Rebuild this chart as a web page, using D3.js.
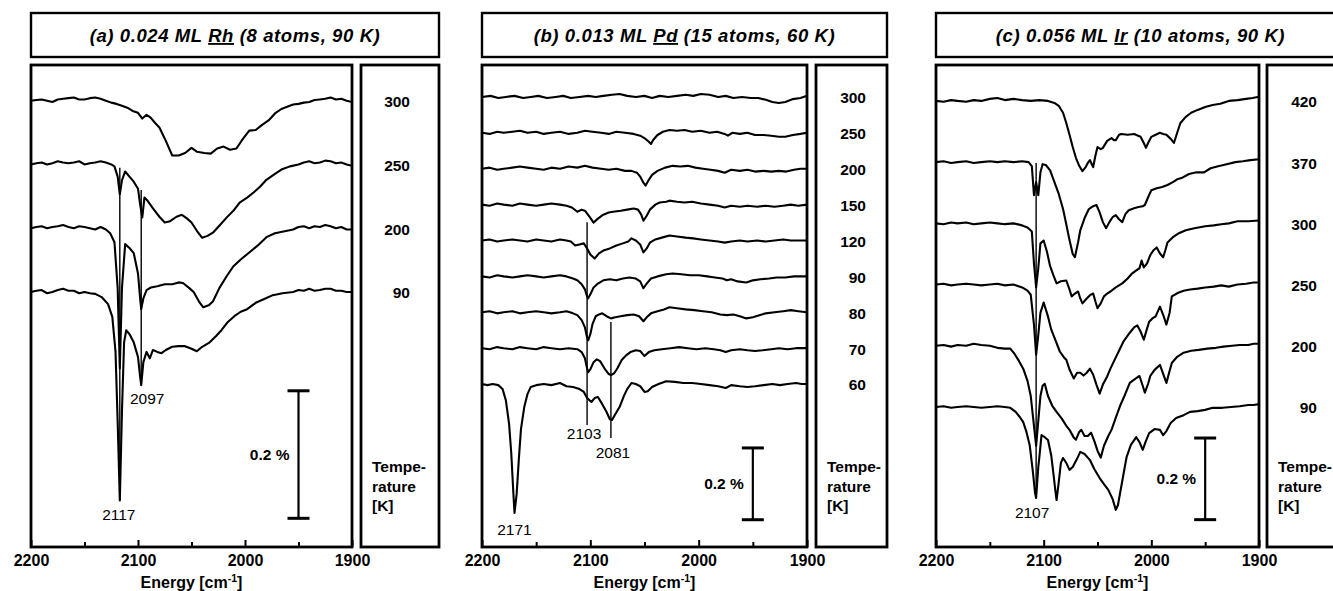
<!DOCTYPE html>
<html>
<head>
<meta charset="utf-8">
<script src="https://cdn.jsdelivr.net/npm/d3@7"></script>
<style>
  body { margin: 0; background: #fff; }
  svg { font-family: 'Liberation Sans', Arial, sans-serif; }
</style>
</head>
<body>
<div id="chart"></div>
<script>
// x axis
const energyTicks = [2200, 2100, 2000, 1900]
const minorTicks = [2150, 2050, 1950]

// (a) Rh, delta R/R in %, stacked top to bottom
const rhTemps = ['300', '250', '200', '90']
const rh300 = [[2200,0],[2195,.001],[2190,.002],[2185,0],[2180,-.002],[2175,.002],[2170,.003],[2165,.004],[2160,.005],[2155,.002],[2150,.002],[2145,.004],[2140,.005],[2135,.003],[2130,0],[2125,-.003],[2120,-.005],[2115,-.008],[2110,-.011],[2105,-.016],[2100,-.019],[2096,-.028],[2092,-.022],[2088,-.027],[2084,-.035],[2080,-.042],[2074,-.063],[2068,-.086],[2062,-.086],[2056,-.082],[2050,-.074],[2045,-.080],[2038,-.082],[2032,-.083],[2026,-.075],[2020,-.072],[2014,-.077],[2008,-.075],[2002,-.060],[1996,-.047],[1990,-.046],[1984,-.038],[1978,-.031],[1972,-.020],[1966,-.013],[1960,-.009],[1955,-.006],[1950,-.005],[1945,-.003],[1940,-.002],[1935,.001],[1930,.002],[1925,.003],[1920,.005],[1915,.002],[1910,.003],[1905,0],[1900,-.002]]
const rh250 = [[2200,0],[2195,.002],[2190,.003],[2185,0],[2180,.002],[2175,.005],[2170,.003],[2165,.002],[2160,.003],[2155,.005],[2150,0],[2145,.002],[2140,.003],[2135,.005],[2130,.003],[2125,0],[2122,-.003],[2119,-.019],[2117,-.047],[2115,-.025],[2112,-.011],[2108,-.019],[2104,-.027],[2100,-.038],[2098,-.063],[2096,-.083],[2094,-.052],[2091,-.057],[2086,-.069],[2080,-.082],[2075,-.091],[2070,-.089],[2064,-.082],[2059,-.079],[2054,-.085],[2050,-.091],[2045,-.104],[2040,-.115],[2035,-.112],[2030,-.107],[2024,-.096],[2017,-.083],[2010,-.071],[2005,-.060],[1998,-.052],[1992,-.044],[1986,-.035],[1980,-.024],[1973,-.016],[1966,-.008],[1958,-.003],[1950,0],[1945,.003],[1940,.005],[1935,.002],[1930,.003],[1925,.006],[1920,.005],[1915,.002],[1910,.003],[1905,0],[1900,-.002]]
const rh200 = [[2200,0],[2195,.002],[2190,.003],[2185,0],[2180,.002],[2175,.003],[2170,.005],[2165,.002],[2160,0],[2155,.003],[2150,.002],[2145,0],[2140,-.002],[2135,.002],[2130,-.002],[2126,-.008],[2122,-.022],[2119,-.094],[2117,-.220],[2115,-.094],[2112,-.025],[2108,-.031],[2104,-.039],[2100,-.071],[2098,-.110],[2097,-.127],[2095,-.110],[2092,-.097],[2088,-.093],[2082,-.091],[2075,-.088],[2068,-.088],[2062,-.085],[2058,-.086],[2052,-.094],[2048,-.100],[2043,-.115],[2039,-.124],[2034,-.121],[2030,-.115],[2024,-.094],[2017,-.075],[2011,-.060],[2004,-.049],[1996,-.038],[1988,-.027],[1980,-.014],[1972,-.008],[1964,-.005],[1955,-.002],[1950,.002],[1945,.003],[1940,0],[1935,.003],[1930,.002],[1925,.005],[1920,.003],[1915,0],[1910,.002],[1905,-.002],[1900,-.002]]
const rh90 = [[2200,0],[2195,.002],[2190,.003],[2185,-.002],[2180,0],[2175,.003],[2170,.005],[2165,.002],[2160,.002],[2155,-.002],[2150,0],[2145,-.002],[2140,-.003],[2134,-.008],[2128,-.019],[2124,-.039],[2121,-.094],[2119,-.204],[2117,-.327],[2115,-.188],[2113,-.079],[2111,-.060],[2108,-.066],[2104,-.079],[2100,-.102],[2098,-.133],[2097,-.146],[2095,-.110],[2092,-.094],[2089,-.104],[2086,-.091],[2082,-.094],[2078,-.096],[2074,-.091],[2068,-.086],[2062,-.085],[2056,-.085],[2050,-.089],[2045,-.093],[2040,-.086],[2033,-.079],[2027,-.069],[2022,-.060],[2016,-.047],[2010,-.038],[2004,-.031],[1998,-.027],[1990,-.017],[1982,-.011],[1974,-.005],[1965,-.002],[1955,0],[1950,.003],[1945,.002],[1940,.005],[1935,.002],[1930,.003],[1925,.005],[1920,.005],[1915,.002],[1910,.002],[1905,0],[1900,0]]
const rhPeaks = [
  { energy: 2117, top: 0.195, bottom: -0.327, label: '2117', dx: -1, dy: 14 },
  { energy: 2097, top: 0.160, bottom: -0.146, label: '2097', dx: 6, dy: 14 },
]

// (b) Pd
const pdTemps = ['300', '250', '200', '150', '120', '90', '80', '70', '60']
const pd300 = [[2200,0],[2192,.003],[2185,-.003],[2178,0],[2170,.003],[2162,-.003],[2155,0],[2148,.003],[2140,-.003],[2132,0],[2125,.003],[2118,-.003],[2110,0],[2102,.003],[2095,0],[2088,.003],[2080,.006],[2073,.008],[2066,.003],[2058,0],[2050,.003],[2043,-.003],[2036,.003],[2028,0],[2020,.003],[2012,.006],[2005,.003],[1998,.008],[1990,.006],[1982,0],[1975,.003],[1968,-.003],[1960,0],[1952,-.003],[1945,-.003],[1938,-.008],[1932,-.014],[1926,-.017],[1920,-.014],[1913,-.006],[1906,-.003],[1900,.003]]
const pd250 = [[2200,0],[2193,-.003],[2186,.003],[2180,0],[2172,.003],[2165,.006],[2158,0],[2150,.003],[2143,-.003],[2136,0],[2128,.003],[2120,-.003],[2112,0],[2105,.006],[2098,.003],[2090,0],[2083,-.003],[2076,.003],[2068,0],[2060,-.003],[2054,-.008],[2049,-.017],[2046,-.025],[2044,-.031],[2042,-.020],[2038,-.006],[2033,.003],[2027,.008],[2020,.006],[2013,.008],[2006,.003],[1998,.006],[1990,0],[1983,.003],[1976,-.003],[1973,-.008],[1969,0],[1962,-.003],[1955,0],[1948,-.006],[1940,-.006],[1933,-.008],[1926,-.011],[1920,-.011],[1913,-.006],[1906,-.003],[1900,0]]
const pd200 = [[2200,0],[2193,.003],[2186,-.003],[2180,0],[2172,.003],[2165,.006],[2158,.003],[2150,0],[2143,-.003],[2136,.003],[2128,0],[2120,.006],[2112,.003],[2105,.008],[2098,.003],[2090,0],[2083,-.003],[2076,0],[2068,-.006],[2062,-.006],[2057,-.011],[2054,-.022],[2051,-.039],[2049,-.047],[2046,-.031],[2043,-.017],[2038,-.006],[2031,.003],[2024,.008],[2017,.006],[2010,.008],[2003,.003],[1996,0],[1989,-.003],[1982,-.006],[1976,-.011],[1970,-.003],[1962,-.006],[1955,-.003],[1948,-.008],[1940,-.006],[1933,-.008],[1926,-.006],[1919,-.008],[1912,-.003],[1906,0],[1900,0]]
const pd150 = [[2200,0],[2193,-.003],[2186,.003],[2180,0],[2172,-.003],[2165,.003],[2158,0],[2150,-.003],[2143,0],[2136,.003],[2128,0],[2122,-.003],[2117,-.008],[2112,-.020],[2108,-.014],[2105,-.017],[2101,-.033],[2097,-.050],[2093,-.039],[2088,-.028],[2083,-.022],[2079,-.020],[2072,-.017],[2066,-.014],[2060,-.011],[2056,-.014],[2053,-.028],[2051,-.045],[2048,-.031],[2045,-.014],[2040,0],[2036,.006],[2030,.008],[2027,.011],[2020,.008],[2013,.006],[2006,.008],[1998,.003],[1990,0],[1982,-.003],[1976,-.008],[1970,-.003],[1962,-.006],[1955,-.003],[1946,-.006],[1938,-.003],[1930,-.006],[1922,-.003],[1915,0],[1908,-.003],[1900,0]]
const pd120 = [[2200,0],[2193,.003],[2186,-.003],[2180,0],[2172,.003],[2165,0],[2158,-.003],[2150,.003],[2143,0],[2136,-.003],[2128,.003],[2122,0],[2118,-.003],[2114,-.014],[2110,-.011],[2106,-.008],[2103,-.022],[2100,-.039],[2096,-.050],[2092,-.036],[2088,-.028],[2082,-.022],[2076,-.014],[2070,-.008],[2065,-.003],[2062,.006],[2058,0],[2054,-.011],[2051,-.033],[2048,-.022],[2045,-.006],[2040,.003],[2034,.008],[2027,.014],[2020,.011],[2012,.008],[2005,.006],[1998,.003],[1990,0],[1982,-.003],[1976,-.006],[1970,-.003],[1962,0],[1955,-.003],[1946,0],[1938,-.003],[1930,0],[1922,.003],[1915,0],[1908,0],[1900,0]]
const pd90 = [[2200,0],[2193,-.003],[2186,.003],[2180,0],[2172,-.003],[2165,0],[2158,.003],[2150,0],[2143,-.003],[2136,0],[2128,.003],[2122,0],[2116,-.006],[2112,-.011],[2108,-.022],[2105,-.036],[2103,-.056],[2102,-.061],[2100,-.050],[2097,-.031],[2093,-.020],[2088,-.011],[2082,-.008],[2076,-.011],[2070,-.006],[2064,-.003],[2058,-.006],[2054,-.014],[2051,-.033],[2048,-.020],[2044,-.006],[2038,0],[2030,.006],[2024,.008],[2016,.006],[2008,.003],[2000,.003],[1992,0],[1985,-.003],[1978,-.006],[1974,-.011],[1970,-.008],[1964,-.014],[1956,-.017],[1950,-.011],[1943,-.008],[1935,-.006],[1928,-.003],[1920,-.003],[1912,0],[1906,0],[1900,0]]
const pd80 = [[2200,0],[2193,.003],[2186,-.003],[2180,0],[2172,.003],[2165,-.003],[2158,0],[2150,.003],[2143,0],[2136,-.003],[2128,0],[2122,.003],[2116,-.003],[2112,-.008],[2108,-.022],[2105,-.042],[2103,-.070],[2102,-.078],[2100,-.061],[2098,-.033],[2095,-.011],[2092,-.006],[2089,-.003],[2085,-.011],[2081,-.017],[2077,-.014],[2072,-.011],[2066,-.008],[2060,-.006],[2055,-.011],[2051,-.025],[2048,-.014],[2044,-.003],[2038,.003],[2032,.008],[2027,.014],[2020,.011],[2012,.008],[2004,.006],[1996,.003],[1988,0],[1980,-.006],[1974,-.008],[1968,-.006],[1962,-.011],[1956,-.017],[1950,-.014],[1944,-.008],[1938,-.003],[1930,0],[1922,.003],[1915,.006],[1908,.003],[1900,0]]
const pd70 = [[2200,0],[2193,-.003],[2186,.003],[2180,0],[2172,-.003],[2165,.003],[2158,0],[2150,-.003],[2143,.003],[2136,0],[2128,-.003],[2120,0],[2112,-.003],[2108,-.011],[2105,-.028],[2103,-.056],[2102,-.067],[2100,-.059],[2097,-.039],[2094,-.031],[2091,-.036],[2087,-.056],[2083,-.072],[2081,-.075],[2078,-.070],[2075,-.056],[2071,-.033],[2067,-.020],[2063,-.011],[2058,-.006],[2054,-.008],[2050,-.022],[2046,-.011],[2041,-.006],[2034,-.003],[2026,0],[2018,.003],[2010,0],[2002,-.003],[1994,0],[1986,-.003],[1980,-.006],[1975,-.011],[1970,-.006],[1962,-.003],[1955,-.006],[1948,-.008],[1941,-.006],[1933,-.003],[1926,0],[1918,-.003],[1910,0],[1905,0],[1900,0]]
const pd60 = [[2200,0],[2195,-.003],[2190,0],[2185,-.003],[2181,-.014],[2178,-.045],[2175,-.111],[2173,-.192],[2171,-.306],[2170,-.359],[2168,-.306],[2166,-.209],[2164,-.125],[2161,-.064],[2158,-.028],[2155,-.008],[2150,-.003],[2143,0],[2136,-.003],[2128,.003],[2122,-.006],[2116,-.008],[2110,-.014],[2106,-.022],[2103,-.039],[2099,-.050],[2096,-.039],[2093,-.036],[2089,-.056],[2085,-.078],[2082,-.098],[2080,-.100],[2077,-.084],[2073,-.064],[2069,-.033],[2066,-.014],[2062,.003],[2058,0],[2054,-.006],[2050,-.022],[2047,-.020],[2043,-.008],[2037,0],[2030,.008],[2022,.006],[2014,.003],[2006,.003],[1998,0],[1990,-.003],[1982,-.006],[1975,-.011],[1970,-.003],[1962,-.006],[1955,-.008],[1948,-.006],[1940,-.003],[1932,0],[1925,-.003],[1918,0],[1910,.003],[1905,0],[1900,0]]
const pdPeaks = [
  { energy: 2103, top: 0.451, bottom: -0.114, label: '2103', dx: -3, dy: 9 },
  { energy: 2081, top: 0.173, bottom: -0.150, label: '2081', dx: 2, dy: 15 },
  { energy: 2170, top: null, bottom: -0.359, label: '2171', dx: 0, dy: 17 },
]

// (c) Ir
const irTemps = ['420', '370', '300', '250', '200', '90']
const ir420 = [[2200,0],[2193,-.002],[2186,.002],[2180,0],[2172,-.002],[2165,.002],[2158,0],[2150,.005],[2143,.007],[2136,.002],[2128,.005],[2120,.002],[2112,0],[2104,.002],[2096,0],[2090,-.005],[2086,-.012],[2082,-.029],[2079,-.054],[2076,-.083],[2073,-.113],[2070,-.140],[2067,-.159],[2064,-.172],[2061,-.162],[2059,-.152],[2057,-.145],[2055,-.157],[2054,-.162],[2052,-.135],[2050,-.113],[2047,-.118],[2045,-.115],[2041,-.098],[2037,-.091],[2035,-.096],[2033,-.096],[2030,-.083],[2028,-.081],[2022,-.083],[2016,-.081],[2010,-.088],[2007,-.103],[2005,-.115],[2003,-.103],[2000,-.088],[1996,-.083],[1992,-.078],[1989,-.081],[1986,-.083],[1982,-.093],[1979,-.103],[1976,-.078],[1973,-.054],[1968,-.039],[1963,-.029],[1957,-.022],[1950,-.015],[1943,-.010],[1936,-.007],[1928,0],[1920,.002],[1912,.005],[1906,.007],[1900,.010]]
const ir370 = [[2200,0],[2193,.002],[2186,-.002],[2180,0],[2172,.002],[2165,-.002],[2158,0],[2150,.002],[2143,0],[2136,.002],[2128,0],[2120,.002],[2114,0],[2111,-.010],[2109,-.081],[2107,-.049],[2105,-.081],[2103,-.025],[2101,-.005],[2098,-.007],[2094,-.020],[2090,-.049],[2086,-.078],[2082,-.115],[2079,-.152],[2076,-.191],[2073,-.225],[2071,-.233],[2068,-.196],[2066,-.167],[2062,-.137],[2058,-.115],[2054,-.108],[2051,-.105],[2048,-.123],[2045,-.147],[2042,-.162],[2039,-.147],[2036,-.135],[2033,-.130],[2030,-.140],[2027,-.147],[2024,-.127],[2021,-.118],[2016,-.113],[2012,-.110],[2008,-.108],[2006,-.105],[2003,-.086],[2000,-.069],[1995,-.064],[1990,-.061],[1985,-.056],[1980,-.049],[1976,-.042],[1972,-.039],[1965,-.029],[1958,-.025],[1951,-.025],[1945,-.015],[1938,-.010],[1930,-.005],[1922,0],[1915,.002],[1908,.005],[1900,.007]]
const ir300 = [[2200,0],[2193,-.002],[2186,.002],[2180,0],[2172,.002],[2165,-.002],[2158,0],[2150,.002],[2143,0],[2136,-.002],[2128,0],[2120,-.005],[2115,-.010],[2111,-.020],[2109,-.098],[2107,-.157],[2105,-.110],[2103,-.049],[2100,-.042],[2097,-.069],[2094,-.105],[2091,-.127],[2088,-.147],[2084,-.142],[2079,-.140],[2076,-.162],[2074,-.179],[2071,-.172],[2068,-.167],[2066,-.184],[2064,-.196],[2060,-.184],[2057,-.176],[2054,-.172],[2052,-.191],[2050,-.208],[2047,-.196],[2044,-.179],[2041,-.172],[2038,-.167],[2033,-.157],[2027,-.147],[2022,-.135],[2018,-.123],[2014,-.115],[2011,-.110],[2009,-.091],[2007,-.108],[2004,-.098],[2001,-.078],[1998,-.066],[1995,-.059],[1992,-.074],[1989,-.083],[1987,-.066],[1985,-.047],[1980,-.034],[1975,-.025],[1968,-.017],[1960,-.012],[1950,-.007],[1942,-.005],[1935,-.002],[1928,0],[1920,.005],[1910,.005],[1900,.007]]
const ir250 = [[2200,0],[2193,.002],[2186,-.002],[2180,0],[2172,.002],[2165,0],[2158,-.002],[2150,0],[2143,.002],[2136,-.002],[2128,0],[2120,-.007],[2115,-.015],[2112,-.025],[2109,-.098],[2107,-.172],[2105,-.123],[2103,-.069],[2100,-.044],[2096,-.078],[2093,-.110],[2089,-.137],[2085,-.164],[2081,-.179],[2079,-.184],[2076,-.208],[2072,-.230],[2069,-.216],[2066,-.216],[2063,-.223],[2060,-.216],[2057,-.206],[2054,-.221],[2051,-.245],[2048,-.267],[2045,-.245],[2041,-.225],[2038,-.206],[2034,-.184],[2030,-.162],[2026,-.140],[2020,-.118],[2016,-.105],[2013,-.100],[2010,-.115],[2007,-.135],[2004,-.108],[2002,-.091],[1999,-.083],[1996,-.078],[1992,-.054],[1989,-.074],[1986,-.098],[1983,-.069],[1981,-.029],[1975,-.020],[1970,-.015],[1964,-.012],[1957,-.010],[1950,-.007],[1942,-.005],[1935,-.002],[1928,-.005],[1920,0],[1912,.002],[1905,.005],[1900,.005]]
const ir200 = [[2200,0],[2193,.002],[2186,-.002],[2180,.002],[2172,0],[2165,.005],[2158,.002],[2150,0],[2143,-.005],[2136,-.007],[2131,-.007],[2127,-.020],[2123,-.037],[2119,-.056],[2115,-.086],[2112,-.123],[2109,-.196],[2107,-.245],[2105,-.184],[2103,-.123],[2101,-.098],[2099,-.093],[2096,-.123],[2092,-.147],[2088,-.162],[2083,-.179],[2079,-.196],[2076,-.206],[2072,-.225],[2070,-.230],[2067,-.211],[2065,-.206],[2062,-.221],[2059,-.221],[2056,-.213],[2053,-.233],[2050,-.257],[2047,-.274],[2044,-.245],[2040,-.221],[2037,-.206],[2033,-.176],[2029,-.147],[2025,-.123],[2020,-.091],[2015,-.081],[2011,-.074],[2008,-.098],[2006,-.115],[2003,-.093],[2001,-.074],[1997,-.059],[1992,-.047],[1989,-.069],[1986,-.091],[1983,-.061],[1981,-.042],[1976,-.027],[1970,-.017],[1963,-.012],[1956,-.010],[1948,-.007],[1940,-.005],[1933,-.002],[1925,0],[1918,.002],[1910,.002],[1905,.005],[1900,.005]]
const ir90 = [[2200,0],[2193,.002],[2186,-.002],[2180,0],[2172,.002],[2165,0],[2158,-.002],[2150,0],[2143,.002],[2136,0],[2131,-.002],[2126,-.012],[2122,-.025],[2119,-.037],[2116,-.061],[2113,-.093],[2110,-.159],[2108,-.211],[2107,-.223],[2105,-.147],[2104,-.123],[2102,-.069],[2099,-.074],[2096,-.081],[2093,-.118],[2091,-.162],[2089,-.208],[2088,-.228],[2086,-.184],[2084,-.137],[2082,-.125],[2079,-.137],[2076,-.154],[2073,-.147],[2069,-.127],[2066,-.110],[2062,-.115],[2057,-.130],[2053,-.152],[2048,-.174],[2044,-.189],[2040,-.203],[2036,-.225],[2033,-.252],[2031,-.240],[2028,-.196],[2025,-.152],[2023,-.123],[2019,-.093],[2014,-.074],[2011,-.086],[2008,-.105],[2005,-.083],[2002,-.064],[1997,-.054],[1992,-.056],[1989,-.069],[1986,-.059],[1982,-.039],[1977,-.027],[1970,-.020],[1964,-.012],[1957,-.010],[1950,-.007],[1943,-.002],[1934,-.002],[1926,0],[1918,.002],[1910,.005],[1905,.005],[1900,.007]]
const irPeaks = [
  { energy: 2107, top: 0.598, bottom: -0.223, label: '2107', dx: -4, dy: 15 },
]

const panels = [
  {
    tag: '(a) 0.024 ML ', metal: 'Rh', rest: ' (8 atoms, 90 K)',
    left: 31, right: 352, tempLeft: 361, tempRight: 439, tempX: 410,
    yDomain: [-0.40, 0.356], step: 0.1, barTop: -0.155,
    temps: rhTemps, series: [rh300, rh250, rh200, rh90], peaks: rhPeaks,
  },
  {
    tag: '(b) 0.013 ML ', metal: 'Pd', rest: ' (15 atoms, 60 K)',
    left: 482, right: 807, tempLeft: 816, tempRight: 887, tempX: 866,
    yDomain: [-0.454, 0.889], step: 0.1, barTop: -0.178,
    temps: pdTemps, series: [pd300, pd250, pd200, pd150, pd120, pd90, pd80, pd70, pd60], peaks: pdPeaks,
  },
  {
    tag: '(c) 0.056 ML ', metal: 'Ir', rest: ' (10 atoms, 90 K)',
    left: 936, right: 1259, tempLeft: 1267, tempRight: 1345, tempX: 1317,
    yDomain: [-0.343, 0.838], step: 0.15, barTop: -0.076,
    temps: irTemps, series: [ir420, ir370, ir300, ir250, ir200, ir90], peaks: irPeaks,
  },
]

const plotTop = 65
const plotBottom = 547

const svg = d3.select('#chart')
  .append('svg')
  .attr('width', 1333)
  .attr('height', 591)

panels.forEach(p => {
  const g = svg.append('g')

  const x = d3.scaleLinear()
    .domain([2200, 1900])
    .range([p.left, p.right])

  const y = d3.scaleLinear()
    .domain(p.yDomain)
    .range([plotBottom, plotTop])

  // title box
  g.append('rect')
    .attr('x', p.left)
    .attr('y', 13)
    .attr('width', p.tempRight - p.left)
    .attr('height', 44)
    .attr('fill', 'none')
    .attr('stroke', '#000')
    .attr('stroke-width', 2.4)

  const title = g.append('text')
    .attr('x', (p.left + p.tempRight) / 2)
    .attr('y', 42)
    .attr('text-anchor', 'middle')
    .attr('font-size', '18.5px')
    .attr('font-weight', 'bold')
    .attr('font-style', 'italic')
    .attr('letter-spacing', '0.6px')
  title.append('tspan').text(p.tag)
  title.append('tspan').attr('text-decoration', 'underline').text(p.metal)
  title.append('tspan').text(p.rest)

  // spectra, offset by a constant step
  const n = p.series.length
  const line = d3.line()
    .x(d => x(d[0]))
    .y(d => y(d[1]))

  p.series.forEach((s, i) => {
    const off = p.step * (n - 1 - i)
    g.append('path')
      .datum(s.map(d => [d[0], d[1] + off]))
      .attr('fill', 'none')
      .attr('stroke', '#000')
      .attr('stroke-width', 2.1)
      .attr('stroke-linejoin', 'round')
      .attr('d', line)

    g.append('text')
      .attr('x', p.tempX)
      .attr('y', y(off) + 1)
      .attr('dy', '0.35em')
      .attr('text-anchor', 'end')
      .attr('font-size', '15.5px')
      .attr('font-weight', 'bold')
      .text(p.temps[i])
  })

  // peak markers
  p.peaks.forEach(k => {
    if (k.top !== null) {
      g.append('line')
        .attr('x1', x(k.energy))
        .attr('x2', x(k.energy))
        .attr('y1', y(k.top))
        .attr('y2', y(k.bottom))
        .attr('stroke', '#000')
        .attr('stroke-width', 1.4)
    }
    g.append('text')
      .attr('x', x(k.energy) + k.dx)
      .attr('y', y(k.bottom) + k.dy)
      .attr('dy', '0.35em')
      .attr('text-anchor', 'middle')
      .attr('font-size', '15.5px')
      .text(k.label)
  })

  // 0.2 % scale bar
  const bx = x(1950)
  const b1 = y(p.barTop)
  const b2 = y(p.barTop - 0.2)
  g.append('line')
    .attr('x1', bx).attr('x2', bx)
    .attr('y1', b1).attr('y2', b2)
    .attr('stroke', '#000')
    .attr('stroke-width', 2.2)
  ;[b1, b2].forEach(yy => {
    g.append('line')
      .attr('x1', bx - 11).attr('x2', bx + 11)
      .attr('y1', yy).attr('y2', yy)
      .attr('stroke', '#000')
      .attr('stroke-width', 3)
  })
  g.append('text')
    .attr('x', bx - 9)
    .attr('y', (b1 + b2) / 2)
    .attr('dy', '0.35em')
    .attr('text-anchor', 'end')
    .attr('font-size', '15.5px')
    .attr('font-weight', 'bold')
    .text('0.2 %')

  // axes
  const xAxis = g.append('g')
    .attr('transform', `translate(0, ${plotBottom})`)
    .call(d3.axisBottom(x)
      .tickValues(energyTicks)
      .tickSizeInner(-7)
      .tickSizeOuter(0)
      .tickPadding(8)
      .tickFormat(d3.format('d')))
  xAxis.select('.domain').remove()
  xAxis.selectAll('line').attr('stroke-width', 2)
  xAxis.selectAll('text')
    .attr('font-size', '16px')
    .attr('font-weight', 'bold')
    .attr('font-family', "'Liberation Sans', Arial, sans-serif")
    .attr('fill', '#000')

  const xMinor = g.append('g')
    .attr('transform', `translate(0, ${plotBottom})`)
    .call(d3.axisBottom(x)
      .tickValues(minorTicks)
      .tickSizeInner(-5)
      .tickSizeOuter(0)
      .tickFormat(''))
  xMinor.select('.domain').remove()
  xMinor.selectAll('line').attr('stroke-width', 2)

  const xLabel = g.append('text')
    .attr('x', (p.left + p.right) / 2)
    .attr('y', 588)
    .attr('text-anchor', 'middle')
    .attr('font-size', '16px')
    .attr('font-weight', 'bold')
  xLabel.append('tspan').text('Energy [cm')
  xLabel.append('tspan').attr('dy', -6).attr('font-size', '10.5px').text('-1')
  xLabel.append('tspan').attr('dy', 6).text(']')

  // plot frame
  g.append('rect')
    .attr('x', p.left)
    .attr('y', plotTop)
    .attr('width', p.right - p.left)
    .attr('height', plotBottom - plotTop)
    .attr('fill', 'none')
    .attr('stroke', '#000')
    .attr('stroke-width', 2.8)

  // temperature box
  g.append('rect')
    .attr('x', p.tempLeft)
    .attr('y', plotTop)
    .attr('width', p.tempRight - p.tempLeft)
    .attr('height', plotBottom - plotTop)
    .attr('fill', 'none')
    .attr('stroke', '#000')
    .attr('stroke-width', 2.8)

  const tLabel = g.append('text')
    .attr('x', p.tempLeft + 11)
    .attr('y', 472)
    .attr('font-size', '15.5px')
    .attr('font-weight', 'bold')
  ;['Tempe-', 'rature', '[K]'].forEach((t, i) => {
    tLabel.append('tspan')
      .attr('x', p.tempLeft + 11)
      .attr('dy', i === 0 ? 0 : 19.5)
      .text(t)
  })
})
</script>
</body>
</html>
